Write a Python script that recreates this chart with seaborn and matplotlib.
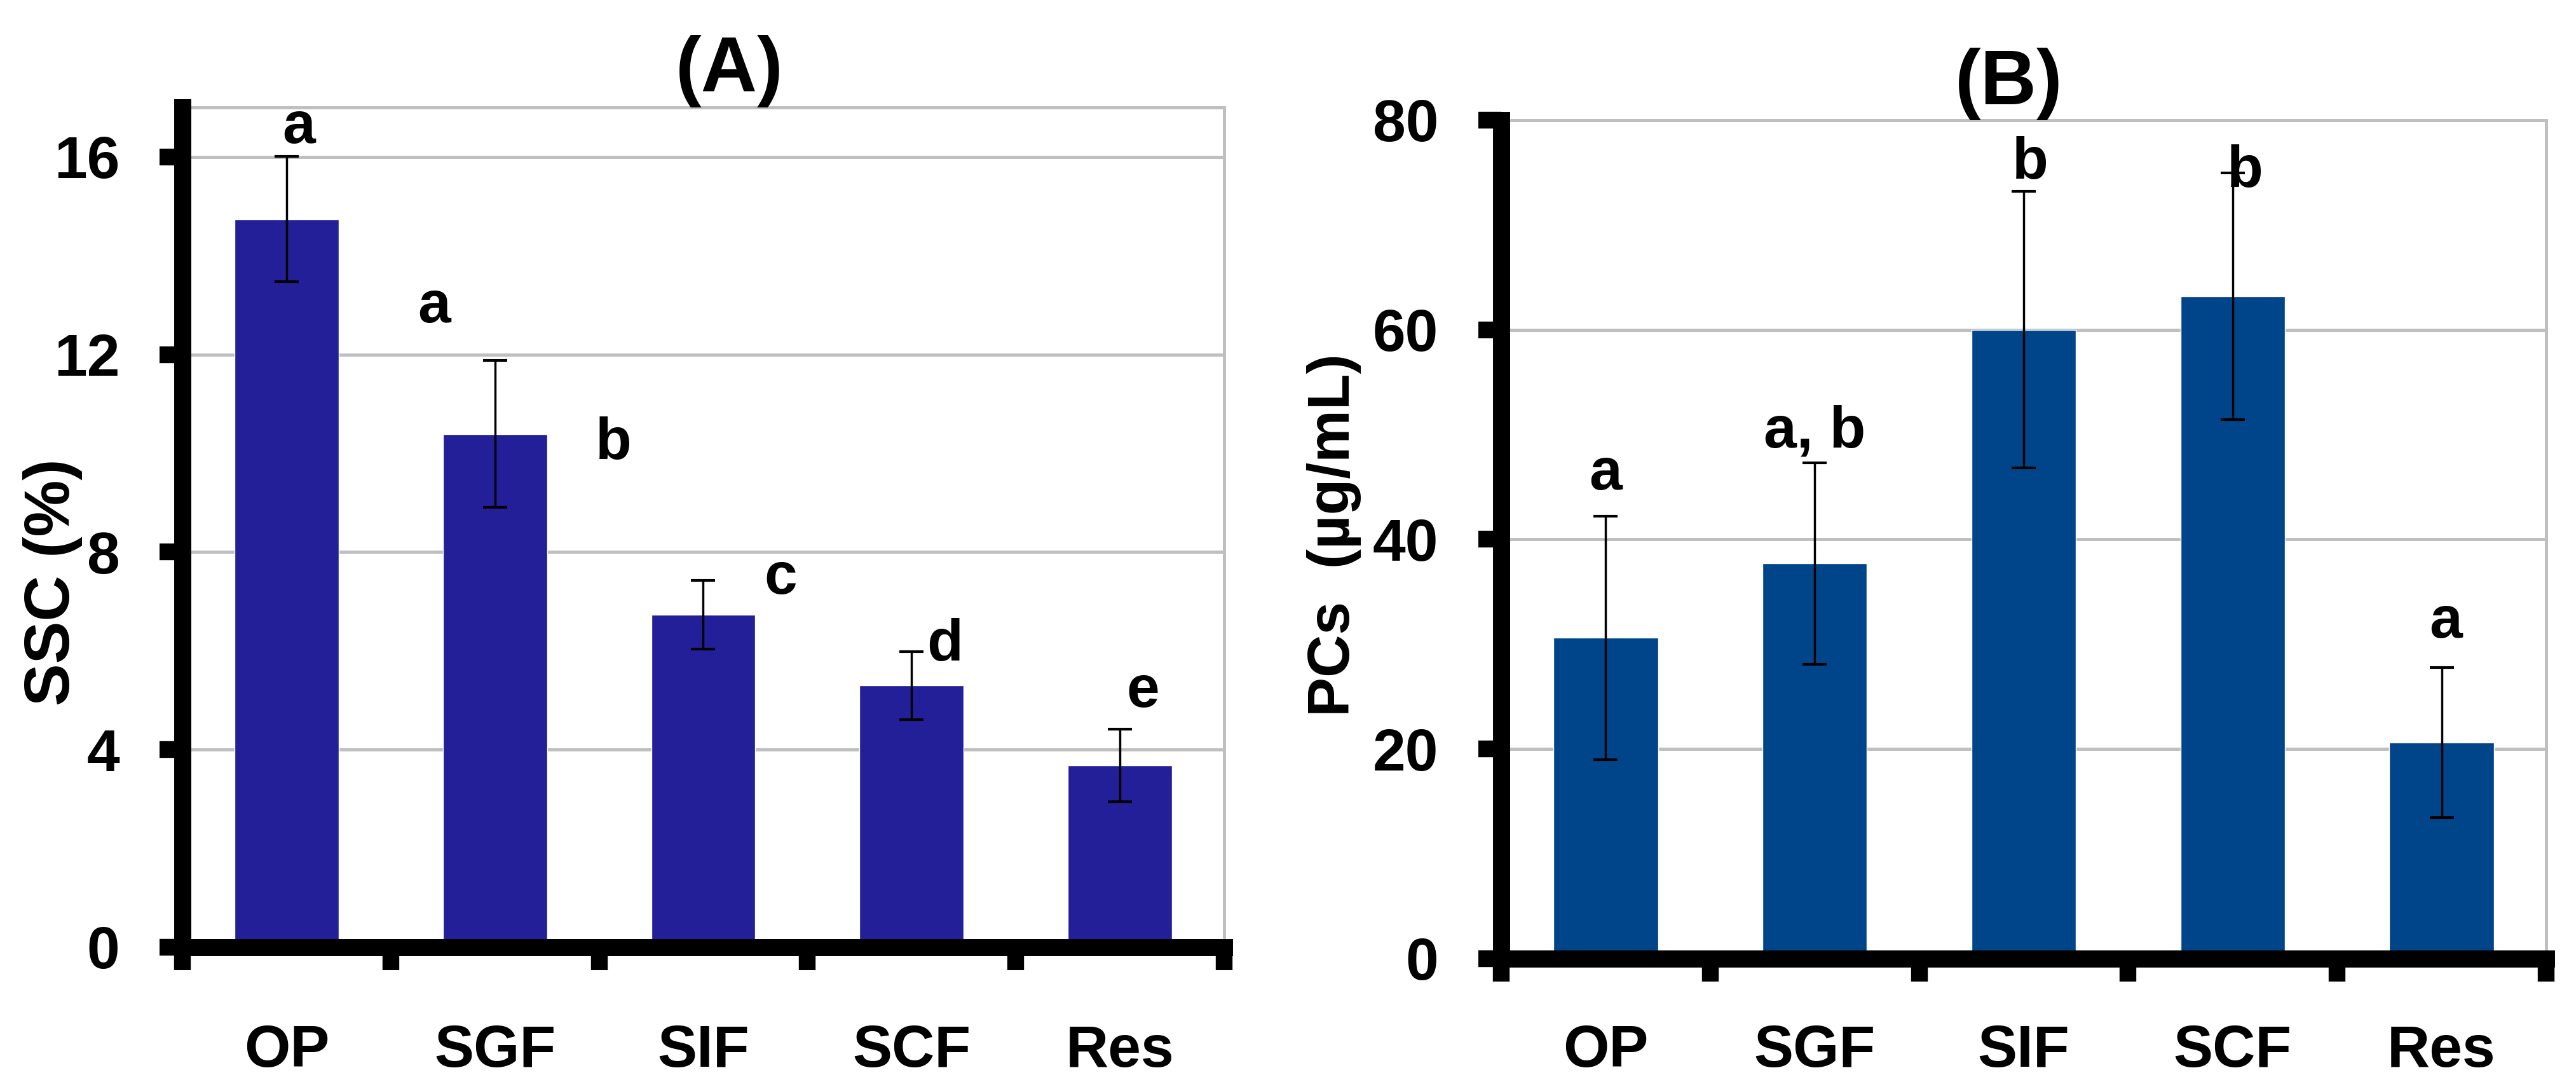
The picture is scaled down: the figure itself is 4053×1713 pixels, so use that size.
import pandas as pd
import matplotlib
matplotlib.use("Agg")
import matplotlib.pyplot as plt
import numpy as np
import seaborn as sns

sns.set_style("white")
plt.rcParams['font.family'] = ['Liberation Sans', 'DejaVu Sans']
plt.rcParams['font.weight'] = 'bold'
plt.rcParams['text.color'] = 'black'
plt.rcParams['axes.labelcolor'] = 'black'
plt.rcParams['xtick.color'] = 'black'
plt.rcParams['ytick.color'] = 'black'

# data
categories = ["OP", "SGF", "SIF", "SCF", "Res"]

ssc_mean = [14.74, 10.39, 6.73, 5.30, 3.68]
ssc_err = [1.27, 1.49, 0.70, 0.69, 0.73]
ssc_letters = ["a", "a", "b", "c", "d", "e"]
ssc_letter_x = [0.06, 0.71, 1.57, 2.37, 3.16, 4.11]
ssc_letter_y = [16.28, 12.65, 9.89, 7.15, 5.80, 4.86]

pcs_mean = [30.6, 37.7, 60.0, 63.2, 20.6]
pcs_err = [11.6, 9.6, 13.2, 11.75, 7.15]
pcs_letters = ["a", "a, b", "b", "b", "a"]
pcs_letter_x = [0.0, 1.0, 2.03, 3.06, 4.02]
pcs_letter_y = [44.75, 48.8, 74.4, 73.6, 30.6]

df_a = pd.DataFrame({"sample": categories, "value": ssc_mean, "err": ssc_err})
df_b = pd.DataFrame({"sample": categories, "value": pcs_mean, "err": pcs_err})

fig = plt.figure(figsize=(40.53, 17.13), dpi=100)
ax1 = fig.add_axes([0.0708, 0.1302, 0.4044, 0.7711])
ax2 = fig.add_axes([0.5828, 0.1197, 0.4056, 0.7700])

FS = 67
GRID = "#BFBFBF"


def draw_panel(ax, df, color, ymax, yticks, ylabel, ylabel_fs, title, title_x,
               letters, lx, ly, xpad, label_coords):
    sns.barplot(data=df, x="sample", y="value", color=color, saturation=1,
                width=0.5, errorbar=None, ax=ax, zorder=2)
    ax.errorbar(np.arange(len(df)), df["value"], yerr=df["err"], fmt="none",
                ecolor="black", elinewidth=2.5, capsize=14, capthick=3,
                zorder=3)
    ax.set_xlim(-0.5, len(df) - 0.5)
    ax.set_ylim(0, ymax)
    ax.set_yticks(yticks)
    ax.set_yticklabels([str(t) for t in yticks], fontsize=FS, fontweight="bold")
    ax.set_xticks(range(len(df)))
    ax.set_xticklabels(df["sample"], fontsize=FS, fontweight="bold")
    ax.set_xticks(np.arange(-0.5, len(df)), minor=True)
    ax.tick_params(axis="x", which="both", bottom=True)
    ax.tick_params(axis="y", which="major", left=True)
    ax.tick_params(axis="x", which="major", length=0, pad=xpad)
    ax.tick_params(axis="x", which="minor", direction="out", length=26,
                   width=19, color="black")
    ax.tick_params(axis="y", which="major", direction="out", length=26,
                   width=19, color="black", pad=45)
    ax.yaxis.grid(True, color=GRID, linewidth=3.6)
    ax.set_axisbelow(True)
    for side in ["left", "bottom"]:
        ax.spines[side].set_color("black")
        ax.spines[side].set_linewidth(19.4)
        ax.spines[side].set_zorder(4)
    for side in ["top", "right"]:
        ax.spines[side].set_color(GRID)
        ax.spines[side].set_linewidth(3.6)
    ax.set_xlabel("")
    ax.set_ylabel(ylabel, fontsize=ylabel_fs, fontweight="bold")
    ax.yaxis.set_label_coords(*label_coords)
    ax.set_title(title, fontsize=88, fontweight="bold", x=title_x, pad=8)
    for t, x, y in zip(letters, lx, ly):
        ax.text(x, y, t, fontsize=FS, fontweight="bold", ha="center",
                va="baseline", zorder=5)


draw_panel(ax1, df_a, "#221F99", 17, [0, 4, 8, 12, 16], "SSC (%)", 72, "(A)",
           0.525, ssc_letters, ssc_letter_x, ssc_letter_y, 87, (-0.096, 0.435))
draw_panel(ax2, df_b, "#00458A", 80, [0, 20, 40, 60, 80], "PCs  (\u00b5g/mL)", 67,
           "(B)", 0.486, pcs_letters, pcs_letter_x, pcs_letter_y, 74,
           (-0.134, 0.505))

fig.savefig("out.png", dpi=100)
